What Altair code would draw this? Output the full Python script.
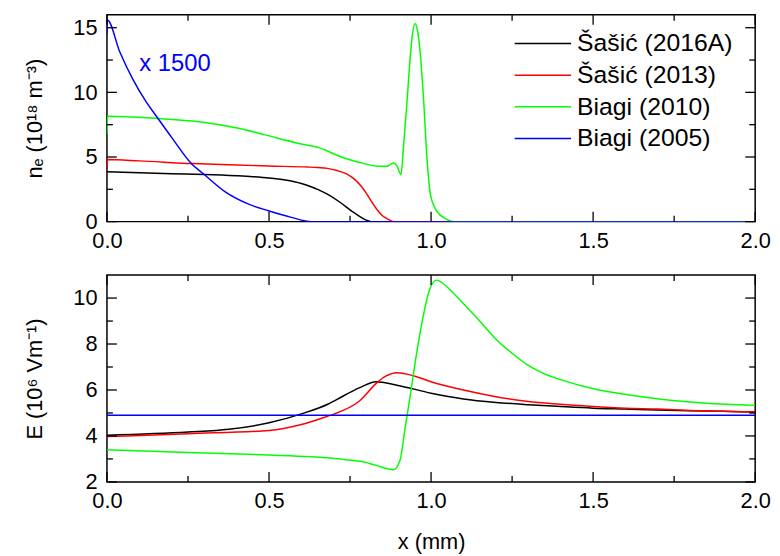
import altair as alt
import pandas as pd

series = ["Šašić (2016A)", "Šašić (2013)", "Biagi (2010)", "Biagi (2005)"]
colors = ["#000000", "#FF0000", "#00FF00", "#0000FF"]

# ---- electron density (top panel), 10^18 m^-3; Biagi (2005) already x1500
ne_black_x = [0, 0.1, 0.2, 0.3, 0.4, 0.45, 0.5, 0.55, 0.6, 0.63, 0.65, 0.68, 0.72, 0.754, 0.784, 0.8, 0.815, 2.0]
ne_black_y = [3.85, 3.78, 3.71, 3.65, 3.55, 3.48, 3.38, 3.22, 2.95, 2.7, 2.5, 2.12, 1.48, 0.84, 0.33, 0.12, 0.0, 0.0]
ne_red_x = [0, 0.002, 0.1, 0.264, 0.4, 0.5, 0.62, 0.65, 0.68, 0.71, 0.742, 0.765, 0.784, 0.8, 0.815, 0.836, 0.85, 0.866, 0.886, 2.0]
ne_red_y = [3.95, 4.8, 4.7, 4.49, 4.38, 4.3, 4.22, 4.18, 4.12, 3.95, 3.65, 3.25, 2.75, 2.2, 1.6, 0.84, 0.45, 0.2, 0.0, 0.0]
ne_green_x = [0, 0.002, 0.157, 0.284, 0.406, 0.488, 0.589, 0.65, 0.732, 0.8, 0.834, 0.864, 0.876, 0.885, 0.895, 0.907,
              0.915, 0.925, 0.935, 0.943, 0.951, 0.958, 0.966, 0.976, 0.988, 0.998, 1.017, 1.047, 1.07, 2.0]
ne_green_y = [6.76, 8.16, 7.98, 7.73, 7.22, 6.71, 6.07, 5.75, 4.92, 4.45, 4.28, 4.28, 4.45, 4.54, 4.3, 3.65,
              5.8, 9.0, 12.5, 14.6, 15.3, 14.8, 13.2, 9.8, 4.7, 2.1, 0.84, 0.2, 0.0, 0.0]
ne_blue_x = [0, 0.001, 0.04, 0.08, 0.12, 0.157, 0.2, 0.26, 0.3, 0.365, 0.437, 0.498, 0.569, 0.63, 2.0]
ne_blue_y = [14.5, 15.6, 13.1, 11.0, 9.3, 8.0, 6.5, 4.5, 3.65, 2.3, 1.35, 0.84, 0.33, 0.0, 0.0]

# ---- electric field (bottom panel), 10^6 V/m
E_black_x = [0, 0.25, 0.376, 0.5, 0.6, 0.681, 0.707, 0.78, 0.83, 0.895, 1.0, 1.1, 1.2, 1.3, 1.4, 1.5, 1.6, 1.7, 1.8, 1.9, 2.0]
E_black_y = [4.03, 4.17, 4.29, 4.57, 4.96, 5.38, 5.57, 6.1, 6.36, 6.21, 5.86, 5.61, 5.46, 5.36, 5.28, 5.21, 5.17, 5.13, 5.1, 5.07, 5.04]
E_red_x = [0, 0.25, 0.5, 0.6, 0.681, 0.7, 0.78, 0.834, 0.86, 0.895, 0.95, 1.0, 1.1, 1.2, 1.3, 1.4, 1.5, 1.6, 1.7, 1.8, 1.9, 2.0]
E_red_y = [3.97, 4.1, 4.24, 4.5, 4.86, 4.95, 5.53, 6.33, 6.6, 6.75, 6.6, 6.36, 6.0, 5.71, 5.5, 5.38, 5.28, 5.21, 5.17, 5.11, 5.07, 5.04]
E_green_x = [0, 0.25, 0.5, 0.627, 0.681, 0.75, 0.783, 0.83, 0.884, 0.904, 0.92, 0.936, 0.951, 0.965, 0.98, 0.995, 1.017,
             1.04, 1.07, 1.098, 1.15, 1.2, 1.25, 1.3, 1.35, 1.404, 1.505, 1.607, 1.709, 1.81, 1.91, 2.0]
E_green_y = [3.4, 3.28, 3.17, 3.1, 3.05, 2.95, 2.9, 2.72, 2.53, 2.93, 4.36, 5.79, 7.2, 8.4, 9.5, 10.35, 10.78,
             10.6, 10.2, 9.78, 9.0, 8.21, 7.6, 7.07, 6.7, 6.43, 6.04, 5.79, 5.6, 5.47, 5.38, 5.33]
E_blue_x = [0, 2.0]
E_blue_y = [4.9, 4.9]

x_major = [0, 0.5, 1.0, 1.5, 2.0]
x_minor = [0.25, 0.75, 1.25, 1.75]
ne_major = [0, 5, 10, 15]
ne_minor = [2.5, 7.5, 12.5]
E_major = [2, 4, 6, 8, 10]
E_minor = [3, 5, 7, 9]

annot_x = [0.10]
annot_y = [12.2]
annot_text = ["x 1500"]


def long_df(xs_list, ys_list):
    rows = []
    for name, xs, ys in zip(series, xs_list, ys_list):
        for xv, yv in zip(xs, ys):
            rows.append({"series": name, "x": xv, "y": yv})
    return pd.DataFrame(rows)


ne_df = long_df([ne_black_x, ne_red_x, ne_green_x, ne_blue_x], [ne_black_y, ne_red_y, ne_green_y, ne_blue_y])
E_df = long_df([E_black_x, E_red_x, E_green_x, E_blue_x], [E_black_y, E_red_y, E_green_y, E_blue_y])

W, H = 655, 209
FONT = "Liberation Sans"
MAJ, MIN = 10, 6


def tick_layer(vals, axis, side, length, xsc, ysc):
    d = pd.DataFrame({"v": vals})
    base = alt.Chart(d).mark_rule(color="black", strokeWidth=1.3)
    if axis == "x":
        enc = dict(x=alt.X("v:Q", scale=xsc, axis=None))
        if side == "bottom":
            enc.update(y=alt.value(H), y2=alt.value(H - length))
        else:
            enc.update(y=alt.value(0), y2=alt.value(length))
    else:
        enc = dict(y=alt.Y("v:Q", scale=ysc, axis=None))
        if side == "left":
            enc.update(x=alt.value(0), x2=alt.value(length))
        else:
            enc.update(x=alt.value(W), x2=alt.value(W - length))
    return base.encode(**enc)


def panel(df, ydomain, ymaj, ymin, ytitle, legend, xtitle, extra=None):
    xsc = alt.Scale(domain=[0, 2], nice=False, zero=False)
    ysc = alt.Scale(domain=ydomain, nice=False, zero=False)
    xaxis_kw = dict(values=x_major, format=".1f", ticks=False, domain=False, grid=False, labelFlush=False,
                    labelPadding=9, labelFontSize=22, labelFont=FONT, labelColor="black")
    if xtitle:
        xaxis = alt.Axis(title=xtitle, titleFontSize=22, titleFont=FONT, titleFontWeight="normal",
                         titleColor="black", titlePadding=20, **xaxis_kw)
    else:
        xaxis = alt.Axis(title=None, **xaxis_kw)
    yaxis = alt.Axis(values=ymaj, format="d", ticks=False, domain=False, grid=False, title=ytitle,
                     labelFlush=False, labelPadding=10, labelFontSize=22, labelFont=FONT, labelColor="black",
                     titleFontSize=22, titleFont=FONT, titleFontWeight="normal", titleColor="black",
                     titlePadding=27)
    lines = alt.Chart(df).mark_line(strokeWidth=1.5, clip=True, interpolate="monotone").encode(
        x=alt.X("x:Q", scale=xsc, axis=xaxis),
        y=alt.Y("y:Q", scale=ysc, axis=yaxis),
        color=alt.Color("series:N", scale=alt.Scale(domain=series, range=colors), legend=legend),
    )
    layers = [lines]
    for side in ["bottom", "top"]:
        layers.append(tick_layer(x_major, "x", side, MAJ, xsc, ysc))
        layers.append(tick_layer(x_minor, "x", side, MIN, xsc, ysc))
    for side in ["left", "right"]:
        layers.append(tick_layer(ymaj, "y", side, MAJ, xsc, ysc))
        layers.append(tick_layer(ymin, "y", side, MIN, xsc, ysc))
    if extra is not None:
        layers.append(extra(xsc, ysc))
    return alt.layer(*layers).resolve_axis(x="independent", y="independent").properties(width=W, height=H)


def annotation(xsc, ysc):
    d = pd.DataFrame({"x": annot_x, "y": annot_y, "t": annot_text})
    return alt.Chart(d).mark_text(color="#0000FF", fontSize=24, font=FONT, align="left", baseline="middle").encode(
        x=alt.X("x:Q", scale=xsc, axis=None), y=alt.Y("y:Q", scale=ysc, axis=None), text="t:N")


legend = alt.Legend(title=None, orient="none", legendX=411, legendY=17, symbolType="stroke",
                    symbolSize=3249, symbolStrokeWidth=1.5, labelFontSize=25, labelFont=FONT,
                    labelColor="black", labelOffset=5, clipHeight=24, rowPadding=7, padding=0)

top = panel(ne_df, [0, 16], ne_major, ne_minor, "nₑ (10¹⁸ m⁻³)", legend, None, annotation)
bottom = panel(E_df, [2, 11], E_major, E_minor, "E (10⁶ Vm⁻¹)", None, "x (mm)")

chart = alt.vconcat(top, bottom, spacing=21).resolve_legend(color="independent").configure_view(
    stroke="black", strokeWidth=1.5).properties(padding={"left": 14, "top": 2, "right": 0, "bottom": 0})

chart.save("out.html", embed_options={"renderer": "svg", "actions": False})
